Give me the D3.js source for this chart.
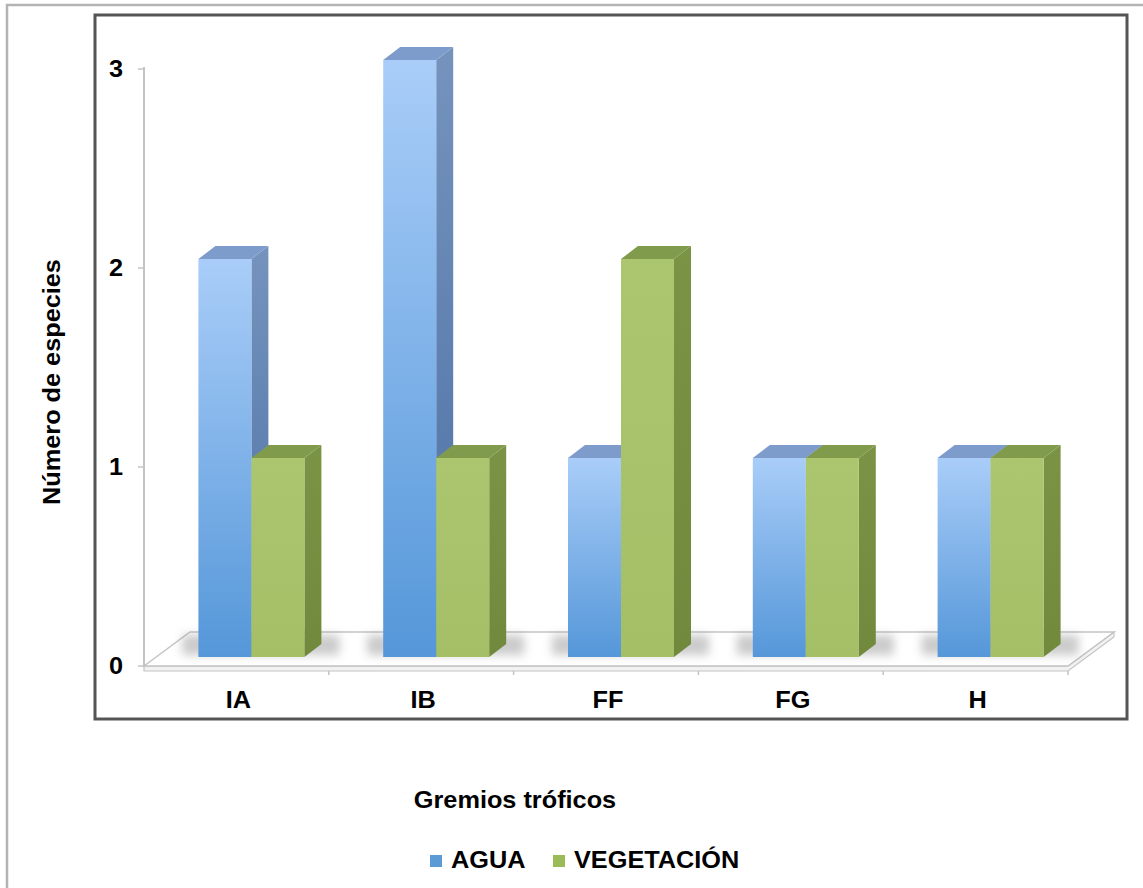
<!DOCTYPE html>
<html>
<head>
<meta charset="utf-8">
<script src="https://cdn.jsdelivr.net/npm/d3@7/dist/d3.min.js"></script>
<style>
  html, body { margin: 0; padding: 0; background: #fff; }
  svg { display: block; }
  text { font-family: "Liberation Sans", Arial, Helvetica, sans-serif; font-weight: bold; fill: #000; }
</style>
</head>
<body>
<svg id="chart" width="1143" height="888"></svg>
<script>
// Trophic guilds and species counts by habitat
const categories = ["IA", "IB", "FF", "FG", "H"];
const agua = [2, 3, 1, 1, 1];
const vegetacion = [1, 1, 2, 1, 1];
const seriesNames = ["AGUA", "VEGETACIÓN"];
const yTicks = [0, 1, 2, 3];

const svg = d3.select("#chart");
const defs = svg.append("defs");

// outer chart-area border
svg.append("rect").attr("x", 7).attr("y", 5).attr("width", 1150).attr("height", 900)
  .attr("fill", "#fff").attr("stroke", "#b4b4b4").attr("stroke-width", 2.5);

// plot-area frame
svg.append("rect").attr("x", 95).attr("y", 15).attr("width", 1032).attr("height", 704)
  .attr("fill", "#fff").attr("stroke", "#555").attr("stroke-width", 3);

const x = d3.scaleBand().domain(categories).range([144, 1068]).padding(0);
const y = d3.scaleLinear().domain([0, 3]).range([666, 69]);

// 3D geometry of the floor and the bars
const floorDepth = { dx: 46, dy: -34 };
const barShift = { dx: 15, dy: -9 };
const barDepth = { dx: 17, dy: -13 };
const barW = 53;
const fontSize = 23;
const stretch = 1.1;

// text helper: slightly wide bold labels
function label(sel, px, py, anchor, rotate) {
  return sel.attr("transform", `translate(${px},${py})${rotate ? ` rotate(${rotate})` : ""} scale(${stretch},1)`)
    .attr("text-anchor", anchor).attr("font-size", fontSize);
}

// gradients
function vGrad(id, top, bottom) {
  const g = defs.append("linearGradient").attr("id", id)
    .attr("x1", 0).attr("y1", 0).attr("x2", 0).attr("y2", 1);
  g.append("stop").attr("offset", 0).attr("stop-color", top);
  g.append("stop").attr("offset", 1).attr("stop-color", bottom);
}
vGrad("blueFront", "#a9cdf8", "#5597d9");
vGrad("blueSide", "#7593bd", "#4b70a5");
vGrad("greenFront", "#abc66f", "#a4bf66");
vGrad("greenSide", "#7b9345", "#71893c");
defs.append("filter").attr("id", "shadowBlur").attr("x", "-50%").attr("y", "-50%")
  .attr("width", "200%").attr("height", "200%")
  .append("feGaussianBlur").attr("stdDeviation", 5);

const styles = [
  { front: "url(#blueFront)", side: "url(#blueSide)", top: "#7e9ccb", key: "#5b9bd5" },
  { front: "url(#greenFront)", side: "url(#greenSide)", top: "#809b4b", key: "#9bbb59" }
];

// floor slab
const x0 = x.range()[0], x1 = x.range()[1], y0 = y(0);
const slab = 5;
svg.append("path")
  .attr("d", `M${x0},${y0} L${x1},${y0} L${x1 + floorDepth.dx},${y0 + floorDepth.dy} L${x1 + floorDepth.dx},${y0 + floorDepth.dy + slab} L${x1},${y0 + slab} L${x0},${y0 + slab} Z`)
  .attr("fill", "#f2f2f2").attr("stroke", "#c4c4c4").attr("stroke-width", 1.2);
svg.append("path")
  .attr("d", `M${x0},${y0} L${x0 + floorDepth.dx},${y0 + floorDepth.dy} L${x1 + floorDepth.dx},${y0 + floorDepth.dy} L${x1},${y0} Z`)
  .attr("fill", "#fff").attr("stroke", "#c4c4c4").attr("stroke-width", 1.5);

// vertical axis line and ticks
svg.append("line").attr("x1", x0).attr("x2", x0).attr("y1", y(3) - 2).attr("y2", y0)
  .attr("stroke", "#c4c4c4").attr("stroke-width", 2);
svg.selectAll(".ytick").data(yTicks).join("line")
  .attr("x1", x0 - 6).attr("x2", x0).attr("y1", d => y(d)).attr("y2", d => y(d))
  .attr("stroke", "#c4c4c4").attr("stroke-width", 1.5);
svg.selectAll(".ylab").data(yTicks).join("text")
  .each(function (d) { label(d3.select(this), 123, y(d) + 8, "end"); })
  .text(d => d);

// category boundary ticks on the floor front edge
svg.selectAll(".xtick").data(categories).join("line")
  .attr("x1", (d, i) => x0 + x.bandwidth() * (i + 1)).attr("x2", (d, i) => x0 + x.bandwidth() * (i + 1))
  .attr("y1", y0 + slab).attr("y2", y0 + slab + 4)
  .attr("stroke", "#c4c4c4").attr("stroke-width", 1.5);

// soft shadows on the floor behind each bar pair
categories.forEach((c, i) => {
  const left = x(c) + x.bandwidth() / 2 + barShift.dx - barW;
  svg.append("rect")
    .attr("x", left - 16).attr("y", y0 + barShift.dy - 22)
    .attr("width", 2 * barW + barDepth.dx + 34).attr("height", 20)
    .attr("fill", "#8c8c8c").attr("opacity", 0.45).attr("filter", "url(#shadowBlur)");
});

// 3D bars
const bars = svg.append("g");
categories.forEach((c, i) => {
  [agua[i], vegetacion[i]].forEach((v, s) => {
    const st = styles[s];
    const fx = x(c) + x.bandwidth() / 2 + barShift.dx - barW + s * barW;
    const fb = y(0) + barShift.dy;
    const ft = y(v) + barShift.dy;
    const g = bars.append("g");
    // side face
    g.append("path")
      .attr("d", `M${fx + barW},${ft} L${fx + barW + barDepth.dx},${ft + barDepth.dy} L${fx + barW + barDepth.dx},${fb + barDepth.dy} L${fx + barW},${fb} Z`)
      .attr("fill", st.side);
    // top face
    g.append("path")
      .attr("d", `M${fx},${ft} L${fx + barDepth.dx},${ft + barDepth.dy} L${fx + barW + barDepth.dx},${ft + barDepth.dy} L${fx + barW},${ft} Z`)
      .attr("fill", st.top);
    // front face
    g.append("rect").attr("x", fx).attr("y", ft).attr("width", barW).attr("height", fb - ft)
      .attr("fill", st.front);
  });
});

// category labels
svg.selectAll(".xlab").data(categories).join("text")
  .each(function (d) { label(d3.select(this), x(d) + x.bandwidth() / 2 + 2, 708, "middle"); })
  .text(d => d);

// axis titles
label(svg.append("text"), 60, 382, "middle", -90).text("Número de especies");
label(svg.append("text"), 515, 808, "middle").text("Gremios tróficos");

// legend
const legendX = [430, 553];
const legend = svg.selectAll(".leg").data(seriesNames).join("g")
  .attr("transform", (d, i) => `translate(${legendX[i]},868)`);
legend.append("rect").attr("x", 0).attr("y", -13).attr("width", 12).attr("height", 12)
  .attr("fill", (d, i) => styles[i].key);
legend.append("text")
  .each(function () { label(d3.select(this), 21, 0, "start"); })
  .text(d => d);
</script>
</body>
</html>
